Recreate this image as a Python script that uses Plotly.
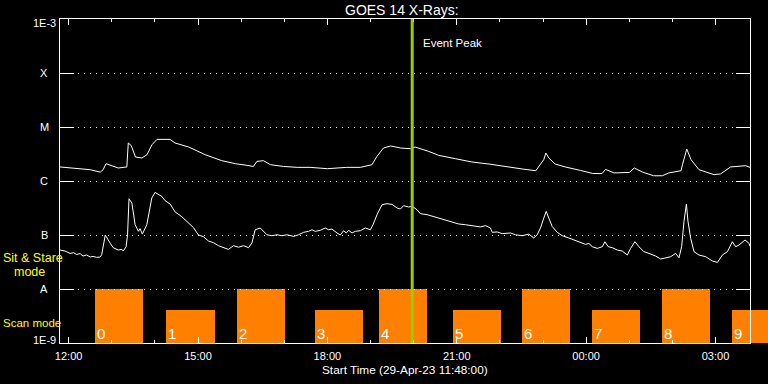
import math
import pandas as pd
import plotly.graph_objects as go

START = pd.Timestamp("2023-04-29 11:48:00")
SPAN_HOURS = 16

# GOES long channel (1-8 A): minutes after start / flux (W m^-2)
long_min = [0, 21, 42, 56, 60, 64, 70, 81, 93, 95, 99, 105, 114, 121, 128, 135, 153, 160, 179, 202,
            225, 244, 260, 269, 274, 283, 293, 311, 330, 348, 372, 399, 418, 434, 441, 450, 460, 474, 488, 494,
            513, 527, 550, 573, 597, 620, 643, 662, 666, 673, 676, 680, 689, 703, 724, 741, 754, 759, 771, 792,
            799, 810, 826, 838, 847, 864, 866, 872, 878, 889, 910, 919, 933, 954, 960]
long_flux = [1.82e-6, 1.74e-6, 1.62e-6, 1.46e-6, 1.62e-6, 2.09e-6, 1.95e-6, 1.74e-6, 1.82e-6, 5.06e-6,
             4.56e-6, 2.78e-6, 2.67e-6, 3.07e-6, 4.70e-6, 5.90e-6, 5.90e-6, 5.06e-6, 4.26e-6, 3.07e-6,
             2.38e-6, 2.09e-6, 1.95e-6, 1.86e-6, 2.31e-6, 2.38e-6, 2.00e-6, 1.86e-6, 1.79e-6, 1.79e-6,
             1.69e-6, 1.79e-6, 1.79e-6, 2.00e-6, 2.86e-6, 4.08e-6, 4.45e-6, 4.08e-6, 3.96e-6, 4.26e-6,
             3.53e-6, 2.98e-6, 2.59e-6, 2.25e-6, 2.06e-6, 1.84e-6, 1.67e-6, 1.55e-6, 1.86e-6, 2.48e-6,
             3.30e-6, 2.67e-6, 2.06e-6, 1.82e-6, 1.57e-6, 1.38e-6, 1.37e-6, 1.64e-6, 1.41e-6, 1.44e-6,
             1.74e-6, 1.47e-6, 1.25e-6, 1.25e-6, 1.41e-6, 1.55e-6, 2.00e-6, 3.91e-6, 2.48e-6, 1.62e-6,
             1.31e-6, 1.35e-6, 1.82e-6, 1.92e-6, 1.79e-6]

# GOES short channel (0.5-4 A): minutes after start / flux (W m^-2)
short_min = [0, 7, 14, 19, 23, 28, 32, 37, 42, 46,
             51, 56, 58, 63, 70, 74, 81, 86, 88, 92,
             94, 96, 100, 104.5, 109.1, 111.4, 114.6, 120.8, 127.7, 132.3,
             141.6, 146.2, 153.2, 160.2, 169.5, 178.7, 185.7, 192.6, 199.6, 206.6,
             213.5, 220.5, 229.8, 234.4, 241.4, 248.3, 255.3, 262.3, 267.0, 271.6,
             278.6, 283.2, 287.9, 294.9, 301.8, 308.8, 315.7, 324.9, 331.9, 338.9,
             345.8, 350.6, 355.2, 362.1, 369.1, 373.7, 378.4, 385.4, 390.0, 394.6,
             398.3, 401.5, 406.3, 410.9, 417.8, 424.8, 431.7, 435.5, 441.1, 448.1,
             455.0, 462.0, 469.0, 473.6, 478.1, 485.1, 489.9, 496.8, 501.4, 510.7,
             515.3, 522.3, 531.6, 538.6, 545.6, 554.7, 564.1, 575.6, 585.0, 591.9,
             598.9, 601.3, 608.2, 615.2, 626.8, 633.7, 643.0, 652.3, 659.2, 663.9,
             668.5, 673.1, 676.5, 680.1, 684.8, 691.8, 698.8, 708.0, 717.3, 726.6,
             731.2, 735.8, 740.6, 747.5, 754.5, 758.1, 762.8, 768.4, 775.4, 782.3,
             789.3, 793.9, 799.9, 805.5, 812.4, 819.4, 828.7, 835.7, 842.6, 849.6,
             856.6, 861.2, 864.9, 868.1, 871.5, 873.7, 877.5, 882.1, 889.0, 898.4,
             907.7, 914.7, 921.6, 928.6, 935.5, 940.1, 944.7, 953.1, 958.7, 960]
short_flux = [5.27e-8, 5.05e-8, 4.56e-8, 4.70e-8, 4.37e-8, 4.51e-8, 4.08e-8, 4.26e-8, 3.91e-8, 4.02e-8,
              3.85e-8, 3.91e-8, 4.32e-8, 1.00e-7, 6.99e-8, 5.82e-8, 5.27e-8, 5.41e-8, 5.05e-8, 6.07e-8,
              1.01e-7, 4.70e-7, 3.91e-7, 1.55e-7, 1.17e-7, 1.31e-7, 1.04e-7, 1.55e-7, 4.84e-7, 6.15e-7,
              5.19e-7, 4.32e-7, 3.75e-7, 2.67e-7, 2.18e-7, 1.67e-7, 1.37e-7, 1.00e-7, 9.30e-8, 7.74e-8,
              7.20e-8, 6.34e-8, 5.82e-8, 5.41e-8, 6.34e-8, 5.94e-8, 6.34e-8, 5.82e-8, 7.11e-8, 1.25e-7,
              1.35e-7, 1.17e-7, 1.01e-7, 9.71e-8, 1.01e-7, 9.71e-8, 1.01e-7, 9.42e-8, 1.01e-7, 1.12e-7,
              1.17e-7, 1.25e-7, 1.17e-7, 1.22e-7, 1.35e-7, 1.25e-7, 1.29e-7, 1.09e-7, 1.00e-7, 1.20e-7,
              1.09e-7, 1.22e-7, 1.09e-7, 1.17e-7, 1.20e-7, 1.35e-7, 1.25e-7, 1.55e-7, 2.38e-7, 3.64e-7,
              3.80e-7, 3.69e-7, 3.16e-7, 3.03e-7, 3.49e-7, 3.30e-7, 3.39e-7, 2.94e-7, 2.48e-7, 2.38e-7,
              2.28e-7, 2.12e-7, 1.98e-7, 1.86e-7, 1.71e-7, 1.60e-7, 1.55e-7, 1.49e-7, 1.41e-7, 1.49e-7,
              1.35e-7, 1.12e-7, 1.14e-7, 1.06e-7, 1.09e-7, 1.01e-7, 9.71e-8, 1.04e-7, 8.80e-8, 1.01e-7,
              1.35e-7, 2.06e-7, 2.74e-7, 2.06e-7, 1.44e-7, 1.12e-7, 9.71e-8, 8.80e-8, 7.94e-8, 7.29e-8,
              6.70e-8, 6.99e-8, 6.07e-8, 5.65e-8, 6.07e-8, 7.51e-8, 6.07e-8, 5.82e-8, 5.27e-8, 5.05e-8,
              4.26e-8, 5.65e-8, 7.51e-8, 6.07e-8, 4.91e-8, 4.56e-8, 4.08e-8, 3.59e-8, 3.80e-8, 3.96e-8,
              4.56e-8, 3.80e-8, 6.07e-8, 1.76e-7, 3.75e-7, 1.79e-7, 8.65e-8, 4.91e-8, 4.26e-8, 3.96e-8,
              3.30e-8, 3.11e-8, 4.26e-8, 4.91e-8, 7.51e-8, 6.07e-8, 6.53e-8, 8.08e-8, 6.99e-8, 6.15e-8]

# Observing blocks: start (minutes after start), duration, mode
block_start_min = [49, 148, 246, 355, 444, 547, 643, 740, 838, 935]
block_len_min = 67
block_mode = ["stare", "scan", "stare", "scan", "stare", "scan", "stare", "scan", "stare", "scan"]
block_labels = ["0", "1", "2", "3", "4", "5", "6", "7", "8", "9"]
mode_top = {"stare": 1e-8, "scan": 4.1e-9}
bar_base = 1e-9

event_peak_min = 490

y_tick_vals = [1e-9, 1e-8, 1e-7, 1e-6, 1e-5, 1e-4, 1e-3]
y_tick_text = ["1E-9", "A", "B", "C", "M", "X", "1E-3"]

FONT = "Liberation Sans, Arial, sans-serif"

# layout geometry (px)
W, H = 768, 384
M_L, M_T, M_B = 60, 19, 41
PLOT_W = 690            # width of framed plot
EXT_W = W - M_L         # bars may run on to the page edge


def t(m):
    return START + pd.Timedelta(minutes=m)


end_time = START + pd.Timedelta(hours=SPAN_HOURS)
bar_axis_end = START + pd.Timedelta(hours=SPAN_HOURS * EXT_W / PLOT_W)

fig = go.Figure()

# bars on an (invisible) axis spanning to the page edge
fig.add_trace(go.Bar(
    x=[t(m) for m in block_start_min],
    y=[mode_top[md] - bar_base for md in block_mode],
    base=bar_base,
    width=[block_len_min * 60000] * len(block_start_min),
    offset=0,
    marker=dict(color="#ff7f00", line=dict(width=0)),
    xaxis="x", yaxis="y",
    showlegend=False, hoverinfo="skip",
))

fig.add_trace(go.Scatter(x=[t(m) for m in long_min], y=long_flux, mode="lines",
                         line=dict(color="white", width=1), xaxis="x2", yaxis="y2",
                         showlegend=False))
fig.add_trace(go.Scatter(x=[t(m) for m in short_min], y=short_flux, mode="lines",
                         line=dict(color="white", width=1), xaxis="x2", yaxis="y2",
                         showlegend=False))

fig.add_shape(type="line", xref="x2", yref="paper", x0=t(event_peak_min), x1=t(event_peak_min),
              y0=0, y1=1, line=dict(color="#99cc00", width=3), layer="above")

px_x = lambda p: (p - M_L) / EXT_W          # page px -> paper x
px_y = lambda p: (H - M_B - p) / (H - M_T - M_B)  # page px -> paper y

ann = []
ann.append(dict(text="Event Peak", xref="x2", yref="paper", x=t(event_peak_min), y=px_y(43),
                xanchor="left", yanchor="middle", xshift=9, showarrow=False,
                font=dict(family=FONT, size=11.5, color="white")))
for m, lab in zip(block_start_min, block_labels):
    ann.append(dict(text=lab, xref="x2", yref="paper", x=t(m), y=px_y(333.5), xanchor="left",
                    yanchor="middle", showarrow=False,
                    font=dict(family=FONT, size=15, color="white")))
for v, lab in zip(y_tick_vals, y_tick_text):
    ys = 0
    if v == y_tick_vals[-1]:
        ys = -4
    if v == y_tick_vals[0]:
        ys = 3
    ann.append(dict(text=lab, xref="paper", yref="y2", x=px_x(44), y=math.log10(v), yshift=ys,
                    xanchor="center", yanchor="middle", showarrow=False,
                    font=dict(family=FONT, size=11, color="white")))
ann.append(dict(text="GOES 14 X-Rays:", xref="paper", yref="paper", x=px_x(402), y=px_y(10),
                xanchor="center", yanchor="middle", showarrow=False,
                font=dict(family=FONT, size=14, color="white")))
ann.append(dict(text="Start Time (29-Apr-23 11:48:00)", xref="paper", yref="paper", x=px_x(405),
                y=px_y(370), xanchor="center", yanchor="middle", showarrow=False,
                borderpad=0,
                font=dict(family=FONT, size=11.8, color="white")))
ann.append(dict(text="Sit & Stare", xref="paper", yref="paper", x=px_x(1), y=px_y(258),
                xanchor="left", yanchor="middle", showarrow=False,
                font=dict(family=FONT, size=12.5, color="#ffff00")))
ann.append(dict(text="mode", xref="paper", yref="paper", x=px_x(12), y=px_y(272),
                xanchor="left", yanchor="middle", showarrow=False,
                font=dict(family=FONT, size=12.5, color="#ffff00")))
ann.append(dict(text="Scan mode", xref="paper", yref="paper", x=px_x(1), y=px_y(323),
                xanchor="left", yanchor="middle", showarrow=False,
                font=dict(family=FONT, size=11.5, color="#ffff00")))

fig.update_layout(
    width=W, height=H,
    margin=dict(l=M_L, r=0, t=M_T, b=M_B),
    paper_bgcolor="black", plot_bgcolor="rgba(0,0,0,0)",
    annotations=ann,
    bargap=0,
    font=dict(family=FONT, color="white", size=11),
    xaxis=dict(type="date", domain=[0, 1], range=[START, bar_axis_end], visible=False,
               anchor="y", fixedrange=True),
    yaxis=dict(type="log", domain=[0, 1], range=[-9, -3], visible=False, anchor="x",
               fixedrange=True),
    xaxis2=dict(
        type="date", domain=[0, PLOT_W / EXT_W], anchor="y2",
        range=[START, end_time],
        tick0="2023-04-29 12:00:00", dtick=3 * 3600000, tickformat="%H:%M",
        ticks="inside", ticklen=6, tickcolor="white", tickwidth=1,
        minor=dict(dtick=3600000, tick0="2023-04-29 12:00:00", ticks="inside", ticklen=3,
                   tickcolor="white", showgrid=False),
        showline=True, linecolor="white", linewidth=1, mirror="allticks",
        showgrid=False, zeroline=False,
        tickfont=dict(family=FONT, size=11, color="white"),
        ticklabelstandoff=3,
    ),
    yaxis2=dict(
        type="log", domain=[0, 1], anchor="x2", range=[-9, -3],
        tickvals=y_tick_vals, showticklabels=False,
        ticks="inside", ticklen=14, tickcolor="white", tickwidth=1,
        showline=True, linecolor="white", linewidth=1, mirror="allticks",
        showgrid=True, gridcolor="white", gridwidth=1, griddash="1px,5px",
        zeroline=False,
    ),
)

fig.write_html("out.html",
               config={"displayModeBar": False},
               post_script="document.body.style.margin='0';document.body.style.background='black';")
